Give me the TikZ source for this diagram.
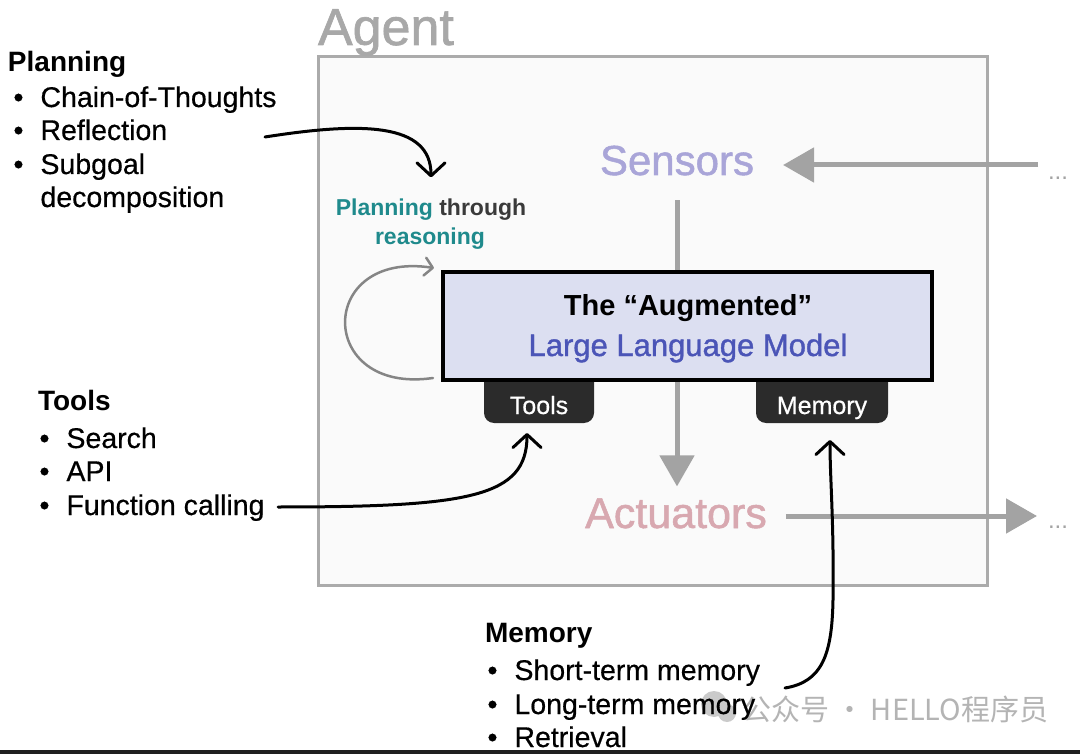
\documentclass[tikz,border=0pt]{standalone}
\usepackage{fontspec}
\setmainfont{Liberation Sans}
\newfontfamily\medfont{Liberation Sans}[FakeBold=1.2]
\newfontfamily\lightmed{Liberation Sans}[FakeBold=0.5]
\newfontfamily\cjkfont{Noto Sans CJK SC}
\usetikzlibrary{arrows.meta}
\definecolor{boxgray}{HTML}{ABABAB}
\definecolor{boxfill}{HTML}{FAFAFA}
\definecolor{agentgray}{HTML}{A8A8A8}
\definecolor{sensc}{HTML}{A9A5D8}
\definecolor{actc}{HTML}{D8A8B0}
\definecolor{flowgray}{HTML}{A3A3A3}
\definecolor{llmfill}{HTML}{DCDFF1}
\definecolor{llmblue}{HTML}{4B55B7}
\definecolor{tealc}{HTML}{1F8A8C}
\definecolor{throughc}{HTML}{3A3A3A}
\definecolor{tabc}{HTML}{2B2B2B}
\definecolor{loopgray}{HTML}{858585}
\definecolor{wmgray}{HTML}{B4B4B4}
\newcommand\pxsize[1]{\fontsize{#1pt}{#1pt}\selectfont}
\tikzset{
  lbl/.style={inner sep=0pt, outer sep=0pt, anchor=base west},
  headtxt/.style={lbl, font=\pxsize{28}\bfseries},
  itemtxt/.style={lbl, font=\lightmed\pxsize{28.5}},
  conn/.style={line width=3pt, line cap=round, -{Straight Barb[length=13pt,width=28pt,round]}},
  flow/.style={draw=flowgray, line width=5pt, -{Triangle[length=31pt,width=34pt]}},
  tabbox/.style={fill=tabc, rounded corners=10pt, text=white, font=\lightmed\pxsize{25}, inner sep=0pt, outer sep=0pt, minimum height=53pt, text height=18pt, text depth=5pt, anchor=north},
  dotstxt/.style={lbl, font=\pxsize{24}, text=flowgray},
}
\newcommand\bul[1]{\makebox[27pt][l]{\textbullet}#1}
\begin{document}
\begin{tikzpicture}[x=1pt,y=-1pt]
\useasboundingbox (0,0) rectangle (1080,754);
\fill[white] (0,0) rectangle (1080,754);

% agent frame
\node[draw=boxgray, line width=3pt, fill=boxfill, minimum width=669pt, minimum height=528pt, anchor=north west, inner sep=0pt, outer sep=0pt] (agent) at (318,57) {};
\node[lbl, font=\medfont\pxsize{52}, text=agentgray] (agenttitle) at (318,45) {Agent};

% sensors / actuators
\node[inner sep=0pt, outer sep=0pt, anchor=base, font=\medfont\pxsize{42}, text=sensc] (sensors) at (677,175) {Sensors};
\node[inner sep=0pt, outer sep=0pt, anchor=base, font=\medfont\pxsize{43}, text=actc] (act) at (676,528) {Actuators};
\node[dotstxt] (dots1) at (1048,180) {...};
\node[dotstxt] (dots2) at (1048,528) {...};
\coordinate (sin) at (1038,165);
\coordinate (aout) at (1037,516);
\draw[flow] (sin) -- ([xshift=29pt]sensors.east |- sin);
\draw[flow] ([xshift=19pt]act.east |- aout) -- (aout);
\draw[flow] ([yshift=-25pt]sensors.south) -- ([yshift=12pt]sensors.south |- act.north);

% tabs
\node[tabbox, minimum width=110pt] (ttab) at (539,370) {\raisebox{-11pt}{Tools}};
\node[tabbox, minimum width=132pt] (mtab) at (822,370) {\raisebox{-11pt}{Memory}};

% LLM box
\node[draw=black, line width=4pt, fill=llmfill, minimum width=489pt, minimum height=108pt, anchor=north west, inner sep=0pt, outer sep=0pt] (llm) at (443,272) {};
\node[inner sep=0pt, outer sep=0pt, anchor=base, font=\pxsize{29}\bfseries] (llmt1) at (688,316) {The “Augmented”};
\node[inner sep=0pt, outer sep=0pt, anchor=base, font=\medfont\pxsize{31}, text=llmblue] (llmt2) at (688,356) {Large Language Model};

% planning through reasoning
\node[inner sep=0pt, outer sep=0pt, anchor=base, font=\pxsize{23}\bfseries] (ptr1) at (431,216) {\textcolor{tealc}{Planning} \textcolor{throughc}{through}};
\node[inner sep=0pt, outer sep=0pt, anchor=base, font=\pxsize{23}\bfseries, text=tealc] (ptr2) at (430,245) {reasoning};

% planning list
\node[headtxt] (planh) at (8,72) {Planning};
\node[itemtxt] (plan1) at (13.5,107) {\bul{Chain-of-Thoughts}};
\node[itemtxt] (plan2) at (13.5,140) {\bul{Reflection}};
\node[itemtxt] (plan3) at (13.5,174) {\bul{Subgoal}};
\node[itemtxt] (plan4) at (40.5,207) {decomposition};

% tools list
\node[headtxt] (toolh) at (38,410) {Tools};
\node[itemtxt] (tool1) at (39.5,448) {\bul{Search}};
\node[itemtxt] (tool2) at (39.5,481) {\bul{API}};
\node[itemtxt] (tool3) at (39.5,515) {\bul{Function calling}};

% watermark (behind memory list)
\fill[wmgray!70] (714,704) circle (13);
\fill[wmgray!70] (727,713) circle (9);
\node[lbl, font=\cjkfont\pxsize{29}, text=wmgray] (wm) at (742,720) {公众号 · HELLO程序员};

% memory list
\node[headtxt] (memh) at (485,642) {Memory};
\node[itemtxt] (mem1) at (487.5,680) {\bul{Short-term memory}};
\node[itemtxt] (mem2) at (487.5,714) {\bul{Long-term memory}};
\node[itemtxt] (mem3) at (487.5,747) {\bul{Retrieval}};

% connectors
\coordinate (pa) at (265,137);
\coordinate (ta) at (278,507);
\coordinate (ma) at (785,688);
\draw[conn, shorten >=22pt] (pa) .. controls (360,122) and (431,122) .. (ptr1.north);
\draw[conn, shorten >=10pt] (ta) .. controls (470,507) and (527,497) .. ([xshift=-12pt]ttab.south);
\draw[conn, shorten >=17pt] (ma) .. controls (822,682) and (832,655) .. (833,600) .. controls (834,520) and (830,480) .. ([xshift=8pt]mtab.south);
\draw[draw=loopgray, line width=2.5pt, line cap=round, -{Straight Barb[length=8pt,width=18pt,round]}]
  ([xshift=-10pt,yshift=2pt]llm.south west) .. controls (316,395) and (316,250) .. ([xshift=-9pt,yshift=4pt]llm.north west);

% bottom bar
\fill[black!88] (0,750) rectangle (1080,754);
\end{tikzpicture}
\end{document}
